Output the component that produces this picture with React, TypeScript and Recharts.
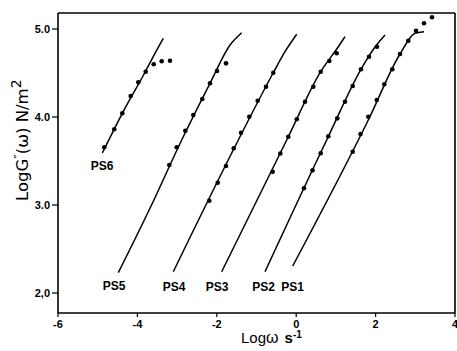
import React from 'react';
import { ComposedChart, Line, Scatter, XAxis, YAxis, ReferenceLine, ReferenceDot, Label } from 'recharts';

// Axis ticks and labels
const X_TICKS = [-6, -4, -2, 0, 2, 4];
const X_TICK_LABELS = ['-6', '-4', '-2', '0', '2', '4'];
const Y_TICKS = [2, 3, 4, 5];
const Y_TICK_LABELS = ['2,0', '3.0', '4.0', '5.0'];
const X_MIN = -6;
const X_MAX = 4;
const Y_MIN = 1.773;
const Y_MAX = 5.182;

const SAMPLES = ['PS1', 'PS2', 'PS3', 'PS4', 'PS5', 'PS6'];

// Model curves (log omega, log G'')
const curvePS6: [number, number][] = [[-4.884, 3.591], [-4.38, 4.042], [-3.791, 4.523], [-3.594, 4.693], [-3.348, 4.894]];
const curvePS5: [number, number][] = [[-4.481, 2.231], [-3.683, 2.963], [-2.884, 3.739], [-2.171, 4.383], [-1.667, 4.818], [-1.373, 4.958]];
const curvePS4: [number, number][] = [[-3.096, 2.242], [-1.458, 3.739], [-0.577, 4.503], [-0.282, 4.742], [0.013, 4.94]];
const curvePS3: [number, number][] = [[-1.877, 2.242], [-0.239, 3.739], [0.617, 4.515], [1.06, 4.799], [1.229, 4.913]];
const curvePS2: [number, number][] = [[-0.786, 2.242], [0.768, 3.739], [1.632, 4.542], [1.985, 4.795], [2.237, 4.932]];
const curvePS1: [number, number][] = [[-0.088, 2.307], [1.816, 3.966], [2.615, 4.716], [2.992, 4.951], [3.219, 4.969]];

// Measured points
const pointsPS6: [number, number][] = [[-4.834, 3.656], [-4.582, 3.861], [-4.38, 4.042], [-4.169, 4.239], [-3.977, 4.394], [-3.791, 4.515], [-3.589, 4.599], [-3.388, 4.633], [-3.179, 4.64]];
const pointsPS5: [number, number][] = [[-3.196, 3.455], [-3.01, 3.656], [-2.793, 3.844], [-2.592, 4.023], [-2.365, 4.205], [-2.171, 4.383], [-1.995, 4.523], [-1.768, 4.61]];
const pointsPS4: [number, number][] = [[-2.189, 3.049], [-1.977, 3.253], [-1.768, 3.443], [-1.574, 3.644], [-1.39, 3.822], [-1.181, 4.003], [-0.97, 4.185], [-0.761, 4.344], [-0.577, 4.503]];
const pointsPS3: [number, number][] = [[-0.592, 3.378], [-0.4, 3.585], [-0.199, 3.776], [0.013, 3.974], [0.222, 4.174], [0.431, 4.344], [0.617, 4.515], [0.834, 4.636], [1.02, 4.724]];
const pointsPS2: [number, number][] = [[0.196, 3.19], [0.411, 3.394], [0.617, 3.588], [0.809, 3.781], [1.035, 3.985], [1.229, 4.174], [1.423, 4.352], [1.632, 4.542], [1.834, 4.685], [2.035, 4.799]];
const pointsPS1: [number, number][] = [[1.423, 3.606], [1.62, 3.807], [1.816, 4.003], [2.028, 4.193], [2.219, 4.372], [2.421, 4.542], [2.615, 4.716], [2.824, 4.867], [3.018, 4.981], [3.219, 5.065], [3.421, 5.133]];

// Sample label anchors (data coordinates)
const labelAnchors: [number, number][] = [[-0.093, 2.068], [-0.824, 2.068], [-1.995, 2.068], [-3.078, 2.068], [-4.589, 2.08], [-4.892, 3.443]];

const curves = [curvePS1, curvePS2, curvePS3, curvePS4, curvePS5, curvePS6];
const points = [pointsPS1, pointsPS2, pointsPS3, pointsPS4, pointsPS5, pointsPS6];

const toObj = (arr: [number, number][]) => arr.map(([x, y]) => ({ x, y }));

const FONT = '"Liberation Sans", Arial, sans-serif';

const Dot = (props: any) => {
  const { cx, cy } = props;
  if (cx == null || cy == null) return null;
  return <circle cx={cx} cy={cy} r={2.3} fill="#000" />;
};

const YTitle = () => (
  <text
    transform="translate(28,201) rotate(-90)"
    fontFamily='"DejaVu Sans", sans-serif'
    fontSize={16.5}
    fill="#000"
    textAnchor="start"
  >
    <tspan>LogG</tspan>
    <tspan dy={-5} fontSize={12}>″</tspan>
    <tspan dy={5}>(ω)  N/m</tspan>
    <tspan dy={-7} fontSize={14}>2</tspan>
  </text>
);

const XTitle = () => (
  <text x={241} y={343} fontFamily={FONT} fontSize={15} fill="#000">
    <tspan>Log</tspan>
    <tspan fontSize={16}>ω</tspan>
    <tspan dx={6} fontWeight="bold">s</tspan>
    <tspan dy={-5} fontSize={10} fontWeight="bold">-1</tspan>
  </text>
);

export default function App() {
  return (
    <div style={{ position: 'absolute', left: 0, top: 0, width: 457, height: 351, background: '#fff' }}>
      <ComposedChart width={457} height={351} margin={{ top: 13, right: 2, bottom: 8, left: 18 }}>
        <XAxis
          dataKey="x"
          type="number"
          domain={[X_MIN, X_MAX]}
          ticks={X_TICKS}
          interval={0}
          allowDataOverflow
          tickFormatter={(v: number) => X_TICK_LABELS[X_TICKS.indexOf(v)] ?? String(v)}
          tick={{ fill: '#000', fontSize: 11, fontWeight: 'bold', fontFamily: FONT }}
          axisLine={{ stroke: '#000', strokeWidth: 1.6 }}
          tickLine={{ stroke: '#000', strokeWidth: 1.2 }}
          tickSize={4}
          tickMargin={3}
          height={30}
        >
          <Label content={() => <XTitle />} />
        </XAxis>
        <YAxis
          dataKey="y"
          type="number"
          domain={[Y_MIN, Y_MAX]}
          ticks={Y_TICKS}
          interval={0}
          allowDataOverflow
          tickFormatter={(v: number) => Y_TICK_LABELS[Y_TICKS.indexOf(v)] ?? String(v)}
          tick={{ fill: '#000', fontSize: 11, fontWeight: 'bold', fontFamily: FONT }}
          axisLine={{ stroke: '#000', strokeWidth: 1.6 }}
          tickLine={{ stroke: '#000', strokeWidth: 1.2 }}
          tickSize={6}
          tickMargin={2}
          width={40}
        >
          <Label content={() => <YTitle />} />
        </YAxis>
        <ReferenceLine y={Y_MAX} stroke="#000" strokeWidth={1.6} ifOverflow="visible" />
        <ReferenceLine x={X_MAX} stroke="#000" strokeWidth={1.6} ifOverflow="visible" />
        {curves.map((c, i) => (
          <Line
            key={'c' + SAMPLES[i]}
            data={toObj(c)}
            dataKey="y"
            type="monotone"
            stroke="#000"
            strokeWidth={1.5}
            dot={false}
            activeDot={false}
            isAnimationActive={false}
          />
        ))}
        {points.map((p, i) => (
          <Scatter
            key={'p' + SAMPLES[i]}
            data={toObj(p)}
            dataKey="y"
            shape={Dot}
            isAnimationActive={false}
          />
        ))}
        {labelAnchors.map(([x, y], i) => (
          <ReferenceDot
            key={'l' + SAMPLES[i]}
            x={x}
            y={y}
            r={0}
            stroke="none"
            fill="none"
            ifOverflow="visible"
            label={{ value: SAMPLES[i], position: 'center', fill: '#000', fontSize: 12, fontWeight: 'bold', fontFamily: FONT }}
          />
        ))}
      </ComposedChart>
    </div>
  );
}
